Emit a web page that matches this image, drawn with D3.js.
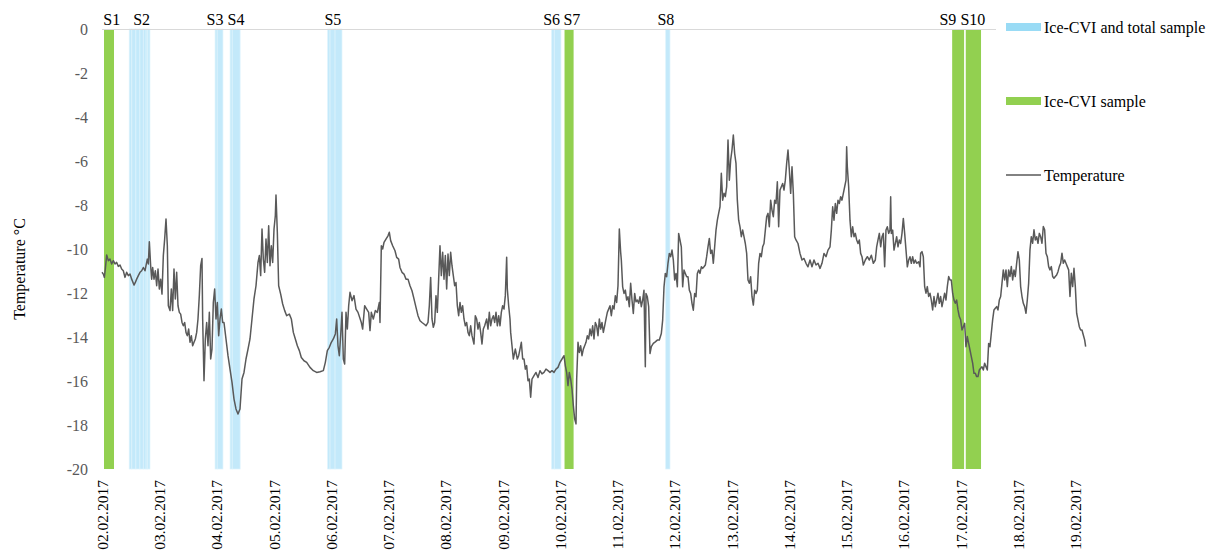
<!DOCTYPE html>
<html>
<head>
<meta charset="utf-8">
<script src="https://cdn.jsdelivr.net/npm/d3@7"></script>
<style>
  html, body { margin: 0; padding: 0; background: #fff; }
  svg { display: block; }
  svg text { font-family: "Liberation Serif", "Times New Roman", "DejaVu Serif", serif !important; }
</style>
</head>
<body>
<svg id="chart" width="1207" height="551"></svg>
<script>
// Hour offsets are counted from 02.02.2017 00:00.
const dateLabels = ["02.02.2017","03.02.2017","04.02.2017","05.02.2017","06.02.2017","07.02.2017",
  "08.02.2017","09.02.2017","10.02.2017","11.02.2017","12.02.2017","13.02.2017","14.02.2017",
  "15.02.2017","16.02.2017","17.02.2017","18.02.2017","19.02.2017"];
const yTicks = [0, -2, -4, -6, -8, -10, -12, -14, -16, -18, -20];

// Sampling periods: name, kind, label position (h), spans (h)
const sampleNames = ["S1","S2","S3","S4","S5","S6","S7","S8","S9","S10"];
const sampleKinds = ["cvi","total","total","total","total","total","cvi","total","cvi","cvi"];
const sampleLabelHours = [4.1, 16.6, 47.4, 56.2, 96.8, 188.5, 197.0, 236.4, 354.6, 365.1];
const sampleSpans = [
  [[0.84, 5.03]],
  [[11.4,12.5],[12.5,14.2],[14.2,15.9],[15.9,17.3],[17.3,18.5],[18.5,19.2],[19.2,20.1]],
  [[47.4,48.3],[48.3,50.7]],
  [[53.7,54.6],[54.6,57.9]],
  [[94.6,95.6],[95.6,97.7],[97.7,100.6]],
  [[188.5,189.6],[189.6,192.4]],
  [[193.9,197.7]],
  [[236.3,238.1]],
  [[356.4,361.4]],
  [[362.1,368.5]]
];

const legendLabels = ["Ice-CVI and total sample", "Ice-CVI sample", "Temperature"];

// Air temperature [hour, °C]
const temperature = [
[0.0,-11.06],[0.56,-11.14],[0.98,-11.29],[1.4,-10.91],[1.96,-10.27],[2.66,-10.53],[3.35,-10.46],[4.05,-10.68],
[4.75,-10.53],[5.45,-10.68],[6.15,-10.61],[6.85,-10.79],[7.55,-10.73],[8.24,-10.91],[8.94,-10.99],[9.64,-11.29],
[10.34,-11.06],[11.04,-11.21],[11.74,-11.14],[12.44,-11.37],[13.42,-11.64],[13.97,-11.52],[14.53,-11.37],[15.23,-11.21],
[15.93,-11.06],[16.63,-10.99],[17.33,-10.84],[18.03,-10.99],[18.59,-10.68],[19.0,-10.46],[19.42,-10.68],[19.84,-9.67],
[20.4,-10.76],[20.82,-11.37],[21.24,-10.84],[21.8,-11.37],[22.36,-10.99],[22.92,-11.67],[23.48,-10.91],[24.03,-11.82],
[24.59,-11.37],[25.15,-12.05],[25.71,-10.3],[26.27,-9.55],[26.83,-8.64],[27.39,-9.85],[27.81,-12.58],[28.51,-12.8],
[29.07,-11.82],[29.62,-12.8],[30.18,-10.91],[30.74,-12.27],[31.3,-11.06],[31.86,-12.58],[32.42,-12.88],[32.98,-12.96],
[33.54,-13.34],[34.1,-13.49],[34.66,-13.34],[35.21,-13.79],[35.77,-13.94],[36.33,-13.64],[36.89,-14.24],[37.45,-13.94],
[38.01,-14.4],[38.57,-14.24],[39.13,-14.09],[39.69,-13.79],[40.24,-13.18],[40.8,-12.12],[41.36,-10.76],[41.92,-10.43],
[42.2,-13.18],[42.76,-15.99],[43.32,-14.09],[43.88,-13.34],[44.44,-14.4],[45.0,-12.88],[45.56,-15.0],[46.11,-14.55],
[46.67,-12.43],[47.23,-11.82],[47.79,-13.18],[48.35,-12.43],[48.91,-13.94],[49.47,-13.18],[50.03,-12.73],[50.59,-13.34],
[51.14,-13.34],[51.98,-14.09],[52.82,-14.85],[53.66,-15.46],[54.5,-16.06],[55.34,-16.82],[56.17,-17.27],[57.01,-17.5],
[57.85,-17.27],[58.69,-15.91],[59.53,-15.61],[60.37,-15.0],[61.21,-14.55],[62.04,-14.09],[62.88,-13.18],[63.72,-12.27],
[64.56,-11.67],[65.4,-10.61],[65.96,-10.3],[66.52,-11.21],[67.08,-9.09],[67.63,-10.46],[68.19,-11.06],[68.75,-9.55],
[69.31,-10.61],[69.87,-8.94],[70.43,-10.76],[70.99,-9.85],[71.55,-10.61],[72.11,-9.09],[72.66,-8.49],[72.94,-7.55],
[73.5,-9.24],[74.06,-11.67],[74.9,-12.05],[75.74,-12.5],[76.58,-12.8],[77.42,-13.03],[78.53,-12.96],[79.37,-13.18],
[80.21,-13.79],[81.05,-14.09],[81.89,-14.4],[82.73,-14.62],[83.56,-14.93],[84.68,-15.08],[85.8,-15.15],[87.2,-15.38],
[88.6,-15.53],[89.99,-15.61],[91.39,-15.58],[92.79,-15.53],[93.63,-15.15],[94.46,-14.62],[95.3,-14.47],[96.14,-14.24],
[96.98,-14.09],[97.82,-13.86],[98.38,-13.18],[98.93,-14.4],[99.49,-14.85],[100.05,-13.94],[100.61,-12.88],[101.17,-15.0],
[101.73,-15.23],[102.29,-12.88],[102.85,-13.64],[103.41,-12.58],[103.97,-11.97],[104.81,-12.35],[105.64,-12.12],[106.48,-12.73],
[107.32,-12.88],[108.71,-13.34],[109.27,-13.64],[110.11,-12.58],[110.95,-12.73],[111.79,-12.88],[112.35,-13.71],[112.91,-12.88],
[113.74,-13.18],[114.58,-12.8],[115.42,-12.88],[116.26,-12.43],[116.54,-13.34],[117.1,-9.85],[117.66,-10.0],[118.22,-9.7],
[119.05,-9.55],[119.89,-9.4],[120.45,-9.24],[121.01,-9.62],[121.85,-9.85],[122.83,-10.08],[123.53,-10.38],[124.36,-10.46],
[124.92,-10.84],[125.76,-11.06],[126.6,-11.14],[127.44,-11.37],[128.28,-11.37],[129.12,-11.67],[129.95,-11.9],[130.79,-12.27],
[131.63,-12.65],[132.47,-13.03],[133.31,-13.26],[134.15,-13.34],[134.98,-13.41],[135.82,-13.49],[136.66,-13.34],[137.22,-12.58],
[137.78,-11.29],[138.34,-13.18],[138.9,-13.56],[139.46,-13.34],[140.01,-12.12],[140.57,-12.88],[141.13,-11.37],[141.69,-9.85],
[142.25,-11.21],[142.81,-10.15],[143.37,-11.37],[143.93,-10.3],[144.49,-11.82],[145.05,-10.23],[145.6,-11.21],[146.16,-10.15],
[146.72,-10.76],[147.28,-11.21],[147.84,-11.67],[148.4,-11.52],[148.96,-12.58],[149.52,-13.03],[150.08,-12.43],[150.63,-12.88],
[151.19,-12.58],[151.75,-13.18],[152.31,-13.49],[152.87,-13.34],[153.43,-13.79],[153.99,-13.94],[154.55,-13.49],[155.11,-13.94],
[155.94,-14.32],[156.5,-13.03],[157.06,-13.18],[157.62,-13.64],[158.18,-13.34],[158.74,-13.79],[159.3,-14.32],[159.86,-13.64],
[160.42,-13.49],[161.25,-13.18],[161.81,-13.64],[162.37,-12.88],[162.93,-13.49],[163.49,-13.18],[164.05,-13.03],[164.61,-13.34],
[165.17,-12.88],[165.73,-13.49],[166.29,-13.03],[166.85,-13.49],[167.4,-12.88],[167.96,-12.58],[168.52,-12.73],[169.08,-12.12],
[169.64,-10.38],[169.92,-11.82],[170.48,-12.58],[171.04,-13.18],[171.32,-13.79],[171.88,-14.4],[172.43,-15.0],[173.27,-14.55],
[174.11,-15.0],[174.67,-14.85],[175.23,-14.55],[175.79,-14.24],[176.35,-15.0],[176.91,-15.0],[177.47,-15.46],[178.02,-15.3],
[178.58,-15.99],[179.14,-15.91],[179.7,-16.74],[180.26,-15.91],[181.1,-15.76],[181.94,-15.61],[182.78,-15.84],[183.61,-15.53],
[184.45,-15.68],[185.29,-15.61],[186.13,-15.46],[186.97,-15.53],[187.81,-15.61],[188.64,-15.53],[189.48,-15.61],[190.32,-15.46],
[191.16,-15.38],[192.0,-15.15],[192.84,-15.0],[193.68,-14.85],[194.23,-15.3],[194.79,-15.61],[195.35,-16.21],[195.91,-15.61],
[196.47,-15.91],[197.03,-16.37],[197.59,-17.12],[198.15,-17.73],[198.71,-17.95],[198.99,-15.91],[199.55,-14.24],[200.1,-14.7],
[200.66,-14.4],[201.22,-14.85],[201.78,-14.55],[202.34,-14.4],[202.9,-14.24],[203.46,-13.94],[204.02,-14.09],[204.58,-13.64],
[205.14,-13.94],[205.69,-13.49],[206.25,-14.09],[206.81,-13.34],[207.37,-13.49],[207.93,-13.94],[208.49,-13.18],[209.05,-13.64],
[209.61,-13.34],[210.17,-13.79],[210.72,-13.49],[211.28,-13.18],[211.84,-12.88],[212.4,-12.73],[212.96,-12.58],[213.52,-13.03],
[214.08,-12.58],[214.64,-12.73],[215.2,-12.12],[215.75,-12.43],[216.31,-11.67],[216.87,-9.09],[217.43,-10.15],[217.71,-10.5],
[218.27,-11.72],[218.83,-12.02],[219.39,-11.87],[219.94,-12.32],[220.5,-12.17],[221.06,-12.62],[221.62,-11.56],[222.18,-12.32],
[222.74,-12.93],[223.3,-12.02],[223.86,-12.4],[224.42,-12.32],[224.98,-12.47],[225.53,-12.17],[226.09,-12.62],[226.65,-12.32],
[227.21,-11.87],[227.77,-15.35],[228.05,-12.02],[228.61,-12.17],[229.17,-12.62],[229.73,-14.75],[230.29,-14.44],[231.12,-14.29],
[231.96,-14.22],[232.8,-14.14],[233.64,-14.14],[234.48,-13.84],[235.04,-13.23],[235.6,-11.72],[236.15,-11.11],[236.71,-11.26],
[237.27,-10.65],[237.83,-10.2],[238.39,-10.35],[238.95,-10.05],[239.51,-10.5],[240.07,-11.41],[240.63,-11.11],[241.19,-11.72],
[241.74,-9.29],[242.3,-9.59],[242.86,-9.9],[243.42,-11.72],[243.98,-10.96],[244.54,-11.11],[245.1,-11.26],[245.66,-11.26],
[246.22,-11.87],[246.78,-12.02],[247.33,-12.47],[247.89,-12.78],[248.45,-12.02],[249.01,-12.17],[249.57,-11.11],[250.13,-10.96],
[250.69,-11.11],[251.25,-10.81],[251.81,-10.88],[252.37,-10.81],[252.92,-10.73],[253.48,-10.35],[254.04,-9.9],[254.6,-9.52],
[255.16,-10.2],[255.72,-10.05],[256.28,-10.65],[256.84,-9.9],[257.4,-9.14],[257.96,-8.69],[258.51,-8.38],[259.07,-8.08],
[259.63,-6.56],[260.19,-7.78],[260.75,-7.47],[261.31,-7.62],[261.87,-7.17],[262.43,-5.05],[262.99,-6.87],[263.54,-5.96],
[264.1,-5.5],[264.66,-4.82],[265.22,-5.66],[265.78,-6.11],[266.34,-7.78],[266.9,-8.69],[267.46,-8.99],[268.02,-9.44],
[268.58,-9.14],[269.13,-9.44],[269.69,-9.75],[270.25,-10.2],[270.81,-11.41],[271.37,-11.56],[271.93,-11.26],[272.49,-12.17],
[273.05,-12.55],[273.61,-11.87],[274.17,-12.02],[274.72,-11.87],[275.28,-10.65],[275.84,-10.2],[276.4,-10.35],[276.96,-9.9],
[277.52,-9.75],[278.08,-9.14],[278.64,-8.53],[279.2,-8.38],[279.75,-8.99],[280.31,-7.78],[280.87,-8.23],[281.43,-8.53],
[281.99,-7.78],[282.55,-7.93],[283.11,-6.94],[283.67,-8.99],[284.23,-7.32],[284.79,-7.17],[285.34,-7.02],[285.9,-7.32],
[286.46,-6.87],[287.02,-6.11],[287.58,-5.5],[288.14,-6.41],[288.7,-7.47],[289.26,-6.26],[289.82,-7.47],[290.37,-9.44],
[290.93,-9.59],[291.77,-9.75],[292.61,-10.2],[293.45,-10.5],[294.29,-10.43],[295.13,-10.65],[295.96,-10.81],[296.8,-10.5],
[297.64,-10.81],[298.48,-10.5],[299.32,-10.73],[300.16,-10.65],[301.0,-10.88],[301.83,-10.65],[302.67,-10.2],[303.51,-10.35],
[304.35,-10.05],[305.19,-9.9],[305.75,-9.14],[306.31,-8.08],[306.86,-8.69],[307.42,-7.93],[307.98,-8.38],[308.54,-7.78],
[309.1,-7.93],[309.66,-7.62],[310.22,-7.78],[310.78,-7.47],[311.34,-7.17],[311.9,-6.87],[312.17,-5.35],[312.45,-6.26],
[313.01,-7.17],[313.57,-8.69],[314.13,-9.44],[314.69,-8.99],[315.25,-9.44],[315.81,-9.29],[316.37,-9.59],[316.93,-9.75],
[317.48,-9.59],[318.04,-10.2],[318.6,-10.35],[319.16,-10.73],[320.0,-10.5],[320.84,-10.35],[321.68,-10.5],[322.51,-10.28],
[323.35,-10.65],[324.19,-10.5],[324.75,-9.9],[325.31,-9.59],[325.87,-9.29],[326.43,-9.9],[326.99,-9.44],[327.54,-9.29],
[328.1,-10.81],[328.66,-9.14],[329.22,-8.99],[329.78,-9.29],[330.34,-9.14],[330.62,-7.62],[330.9,-9.29],[331.46,-9.14],
[332.02,-10.05],[332.58,-9.75],[333.13,-9.44],[333.69,-9.9],[334.25,-9.59],[334.81,-9.75],[335.37,-9.29],[335.93,-8.61],
[336.49,-9.29],[337.05,-10.05],[337.61,-10.81],[338.17,-10.5],[338.72,-10.35],[339.28,-10.65],[339.84,-10.35],[340.4,-10.65],
[340.96,-10.5],[341.52,-10.65],[342.36,-10.58],[342.92,-10.81],[343.19,-10.19],[343.75,-10.12],[344.31,-10.35],[344.87,-11.71],
[345.42,-12.01],[345.98,-11.71],[346.54,-12.16],[347.1,-12.01],[347.66,-12.32],[348.22,-12.77],[348.78,-12.16],[349.34,-12.62],
[349.9,-12.32],[350.45,-12.01],[351.01,-12.47],[351.57,-12.16],[352.13,-12.62],[352.69,-12.32],[353.25,-12.01],[353.81,-12.32],
[354.37,-11.71],[354.93,-11.25],[355.49,-11.41],[356.04,-11.41],[356.6,-12.01],[357.16,-12.32],[357.72,-12.47],[358.28,-12.32],
[358.84,-12.77],[359.4,-13.07],[359.96,-13.22],[360.52,-13.68],[361.08,-13.53],[361.63,-13.38],[362.19,-14.44],[362.75,-13.98],
[363.31,-14.29],[363.87,-14.59],[364.43,-14.89],[364.99,-15.19],[365.55,-15.65],[366.11,-15.65],[366.66,-15.8],[367.22,-15.8],
[367.78,-15.5],[368.34,-15.42],[368.9,-15.35],[369.46,-15.5],[370.02,-15.19],[370.58,-15.35],[371.14,-15.5],[371.7,-14.29],
[372.25,-14.44],[372.81,-13.83],[373.37,-13.22],[373.93,-12.77],[374.49,-12.69],[375.05,-12.62],[375.61,-12.77],[376.17,-12.32],
[376.73,-12.16],[377.28,-11.56],[377.84,-10.95],[378.4,-11.41],[378.96,-10.95],[379.52,-11.71],[380.08,-10.95],[380.64,-11.25],
[381.2,-10.8],[381.76,-11.41],[382.32,-10.95],[382.87,-11.25],[383.43,-10.65],[383.99,-10.12],[384.55,-10.5],[385.11,-11.71],
[385.67,-12.16],[386.23,-12.47],[386.79,-12.62],[387.35,-12.92],[387.9,-12.32],[388.46,-11.56],[389.02,-10.04],[389.58,-9.44],
[390.14,-9.74],[390.7,-9.13],[391.26,-9.59],[391.82,-9.44],[392.38,-9.74],[392.94,-9.29],[393.49,-9.44],[394.05,-9.74],
[394.61,-8.98],[395.17,-9.13],[395.73,-10.19],[396.29,-10.35],[396.85,-10.8],[397.41,-10.95],[397.97,-10.8],[398.53,-11.25],
[399.08,-11.33],[399.64,-11.25],[400.2,-11.18],[400.76,-11.03],[401.32,-10.8],[401.88,-10.65],[402.44,-10.19],[403.0,-10.65],
[403.56,-10.5],[404.11,-10.65],[404.67,-10.8],[405.23,-10.95],[405.79,-12.16],[406.35,-11.1],[406.91,-11.71],[407.47,-10.88],
[408.03,-11.71],[408.59,-12.92],[409.14,-13.22],[409.7,-13.53],[410.26,-13.68],[410.82,-13.68],[411.38,-13.91],[411.94,-14.13],
[412.36,-14.44]
];

// Layout
const plotLeft = 102, plotTop = 29, plotBottom = 469, dayWidth = 57.25, plotRight = 996;
const colors = { total: "#c3e9fa", totalEdge: "#ddf3fc", totalKey: "#99dbf5", cvi: "#92d050", line: "#595959" };
const serif = "'Liberation Serif', 'Times New Roman', 'DejaVu Serif', serif";

const svg = d3.select("#chart");

const x = d3.scaleLinear()
  .domain([0, 24 * (dateLabels.length - 1)])
  .range([plotLeft, plotLeft + dayWidth * (dateLabels.length - 1)]);
const y = d3.scaleLinear().domain([-20, 0]).range([plotBottom, plotTop]);

// Sampling bands
const bands = [];
sampleSpans.forEach((spans, i) => spans.forEach(s => bands.push({ kind: sampleKinds[i], s })));
svg.append("g").selectAll("rect").data(bands).join("rect")
  .attr("x", d => x(d.s[0]))
  .attr("width", d => x(d.s[1]) - x(d.s[0]))
  .attr("y", y(0))
  .attr("height", y(-20) - y(0))
  .attr("fill", d => colors[d.kind])
  .attr("stroke", d => d.kind === "total" ? colors.totalEdge : "none")
  .attr("stroke-width", 0.7);

// Zero line along the top
svg.append("line")
  .attr("x1", x(0)).attr("x2", plotRight)
  .attr("y1", y(0) + 0.5).attr("y2", y(0) + 0.5)
  .attr("stroke", "#d9d9d9").attr("stroke-width", 1.2);

// Sample labels
svg.append("g").selectAll("text").data(sampleNames).join("text")
  .attr("x", (d, i) => x(sampleLabelHours[i]))
  .attr("y", 25)
  .attr("text-anchor", "middle")
  .style("font-family", serif)
  .style("font-size", "16px")
  .attr("fill", "#000")
  .text(d => d);

// Y axis labels
const yAxis = d3.axisLeft(y).tickValues(yTicks).tickSize(0).tickPadding(0)
  .tickFormat(d => String(d));
const yg = svg.append("g").attr("transform", "translate(88,0)").call(yAxis);
yg.attr("font-family", null);
yg.select(".domain").remove();
yg.selectAll("text").style("font-size", "16px").style("font-family", serif).attr("fill", "#595959");

// Date labels
const xAxis = d3.axisBottom(x).tickValues(dateLabels.map((d, i) => i * 24)).tickSize(0).tickPadding(0)
  .tickFormat((d, i) => dateLabels[i]);
const xg = svg.append("g").attr("transform", `translate(0,${plotBottom + 11})`).call(xAxis);
xg.attr("font-family", null);
xg.select(".domain").remove();
xg.selectAll("text")
  .style("font-size", "15.5px").style("font-family", serif).attr("fill", "#000")
  .attr("transform", "rotate(-90)")
  .attr("text-anchor", "end")
  .attr("x", 0).attr("y", 0).attr("dy", "0.35em");

// Y axis title
svg.append("text")
  .attr("transform", "translate(19,269) rotate(-90)")
  .attr("text-anchor", "middle")
  .attr("dy", "0.35em")
  .style("font-family", serif)
  .style("font-size", "16px")
  .attr("fill", "#000")
  .text("Temperature °C");

// Temperature line
const line = d3.line().x(d => x(d[0])).y(d => y(d[1]));
svg.append("path")
  .datum(temperature)
  .attr("fill", "none")
  .attr("stroke", colors.line)
  .attr("stroke-width", 1.5)
  .attr("stroke-linejoin", "round")
  .attr("d", line);

// Legend
const legend = svg.append("g").attr("transform", "translate(1006,0)");
const legendY = [27, 101, 175];
legendLabels.forEach((label, i) => {
  const g = legend.append("g").attr("transform", `translate(0,${legendY[i]})`);
  if (i < 2) {
    g.append("rect").attr("x", 0).attr("y", -4).attr("width", 35).attr("height", 8)
      .attr("fill", i === 0 ? colors.totalKey : colors.cvi);
  } else {
    g.append("line").attr("x1", 0).attr("x2", 35).attr("y1", 0).attr("y2", 0)
      .attr("stroke", colors.line).attr("stroke-width", 1.4);
  }
  g.append("text").attr("x", 38).attr("dy", "0.35em")
    .style("font-family", serif).style("font-size", "16px")
    .attr("fill", "#000").text(label);
});
</script>
</body>
</html>
